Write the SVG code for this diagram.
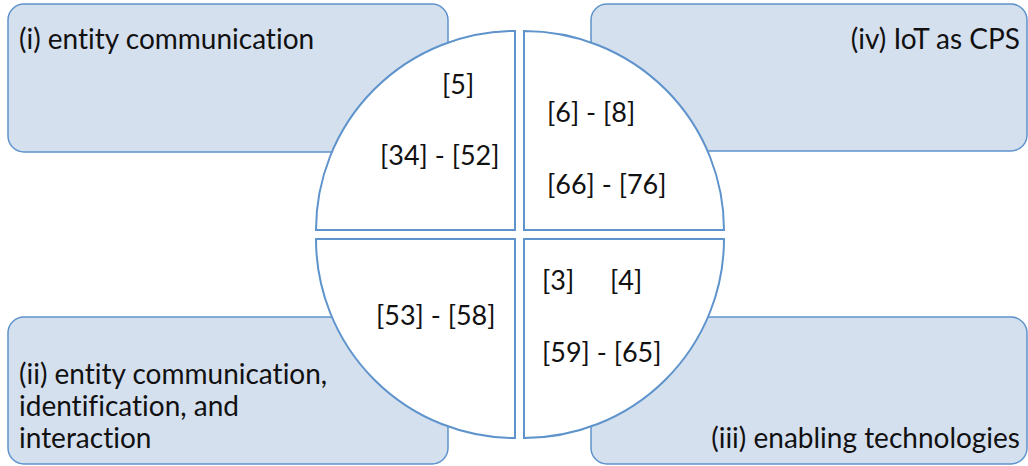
<svg xmlns="http://www.w3.org/2000/svg" width="1028" height="466" viewBox="0 0 1028 466">
<style>
.box{fill:#D5E0EF;stroke:#5E93CC;stroke-width:1.5}
.q{fill:#FFFFFF;stroke:#5E93CC;stroke-width:2}
text{font-family:Lato,"Open Sans",sans-serif;font-size:27px;fill:#111111;font-variant-ligatures:none}
.lbl{font-size:28px}
.r{text-anchor:end}
</style>
<rect width="1028" height="466" fill="#FFFFFF"/>
<g id="box-i"><rect class="box" x="8" y="4" width="440" height="148" rx="16"/><text class="lbl" x="19" y="49">(i) entity communication</text></g>
<g id="box-iv"><rect class="box" x="591" y="4" width="436" height="147" rx="16"/><text class="lbl r" x="1020" y="49">(iv) IoT as CPS</text></g>
<g id="box-ii"><rect class="box" x="8" y="317" width="440" height="147" rx="16"/><text class="lbl" x="19" y="384">(ii) entity communication,</text><text class="lbl" x="19" y="416">identification, and</text><text class="lbl" x="19" y="448">interaction</text></g>
<g id="box-iii"><rect class="box" x="591" y="317" width="436" height="147" rx="16"/><text class="lbl r" x="1020" y="448">(iii) enabling technologies</text></g>
<g id="quad-tl"><path class="q" d="M515,230 L316,230 A199,199 0 0 1 515,31 Z"/><text x="442" y="94">[5]</text><text x="380" y="165">[34] - [52]</text></g>
<g id="quad-tr"><path class="q" d="M524,230 L524,31 A200,199 0 0 1 724,230 Z"/><text x="547" y="122">[6] - [8]</text><text x="547" y="194">[66] - [76]</text></g>
<g id="quad-bl"><path class="q" d="M515,239 L515,438 A199,199 0 0 1 316,239 Z"/><text x="376" y="325">[53] - [58]</text></g>
<g id="quad-br"><path class="q" d="M524,239 L724,239 A200,199 0 0 1 524,438 Z"/><text x="542" y="290">[3]</text><text x="610" y="290">[4]</text><text x="542" y="362">[59] - [65]</text></g>
<g id="connectors"/>
</svg>
